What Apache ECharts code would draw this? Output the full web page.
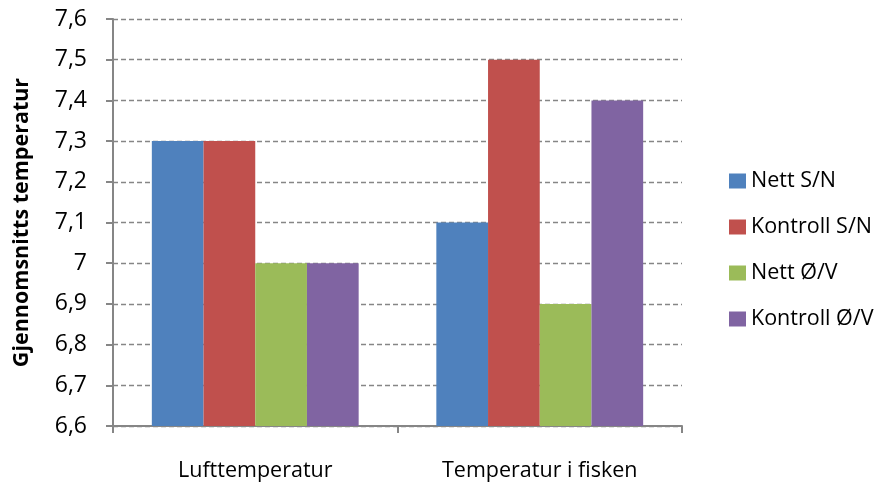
<!DOCTYPE html>
<html><head><meta charset="utf-8">
<script src="https://cdn.jsdelivr.net/npm/echarts@6/dist/echarts.min.js"></script>
<style>html,body{margin:0;padding:0;background:#fff}#c{width:882px;height:486px}</style>
</head><body><div id="c"></div>
<script>
var categories = ['Lufttemperatur', 'Temperatur i fisken'];
var seriesNames = ['Nett S/N', 'Kontroll S/N', 'Nett Ø/V', 'Kontroll Ø/V'];
var nettSN = [7.3, 7.1];
var kontrollSN = [7.3, 7.5];
var nettOV = [7.0, 6.9];
var kontrollOV = [7.0, 7.4];
var colors = ['#4F81BD', '#C0504D', '#9BBB59', '#8064A2'];
var values = [nettSN, kontrollSN, nettOV, kontrollOV];
var font = '"Open Sans", sans-serif';

var chart = echarts.init(document.getElementById('c'));
chart.setOption({
  animation: false,
  grid: {left: 113, right: 200, top: 19, bottom: 60},
  legend: {
    orient: 'vertical', left: 724, top: 165, itemGap: 24,
    itemWidth: 17, itemHeight: 15, icon: 'rect',
    textStyle: {fontFamily: font, fontSize: 21.5, color: '#000', padding: [0, 0, 0, 0]},
    data: seriesNames
  },
  xAxis: {
    type: 'category', data: categories,
    axisLine: {lineStyle: {color: '#868686', width: 2}},
    axisTick: {show: true, length: 7, lineStyle: {color: '#868686', width: 2}},
    axisLabel: {fontFamily: font, fontSize: 21.5, color: '#000', margin: 34}
  },
  yAxis: {
    type: 'value', min: 6.6, max: 7.6, interval: 0.1,
    name: 'Gjennomsnitts temperatur', nameLocation: 'middle', nameGap: 80,
    nameTextStyle: {fontFamily: font, fontSize: 21.5, fontWeight: 'bold', color: '#000'},
    axisLine: {show: true, lineStyle: {color: '#868686', width: 2}},
    axisTick: {show: true, length: 7, lineStyle: {color: '#868686', width: 2}},
    axisLabel: {fontFamily: font, fontSize: 23, color: '#000', margin: 26,
      formatter: function (v) { return (Math.round(v * 10) / 10).toString().replace('.', ','); }},
    splitLine: {show: true, lineStyle: {color: '#868686', type: [5, 3], width: 1.3}}
  },
  series: seriesNames.map(function (n, i) {
    return {name: n, type: 'bar', data: values[i], barGap: '0%', barCategoryGap: '27.3%',
      itemStyle: {color: colors[i]}};
  })
});
</script></body></html>
